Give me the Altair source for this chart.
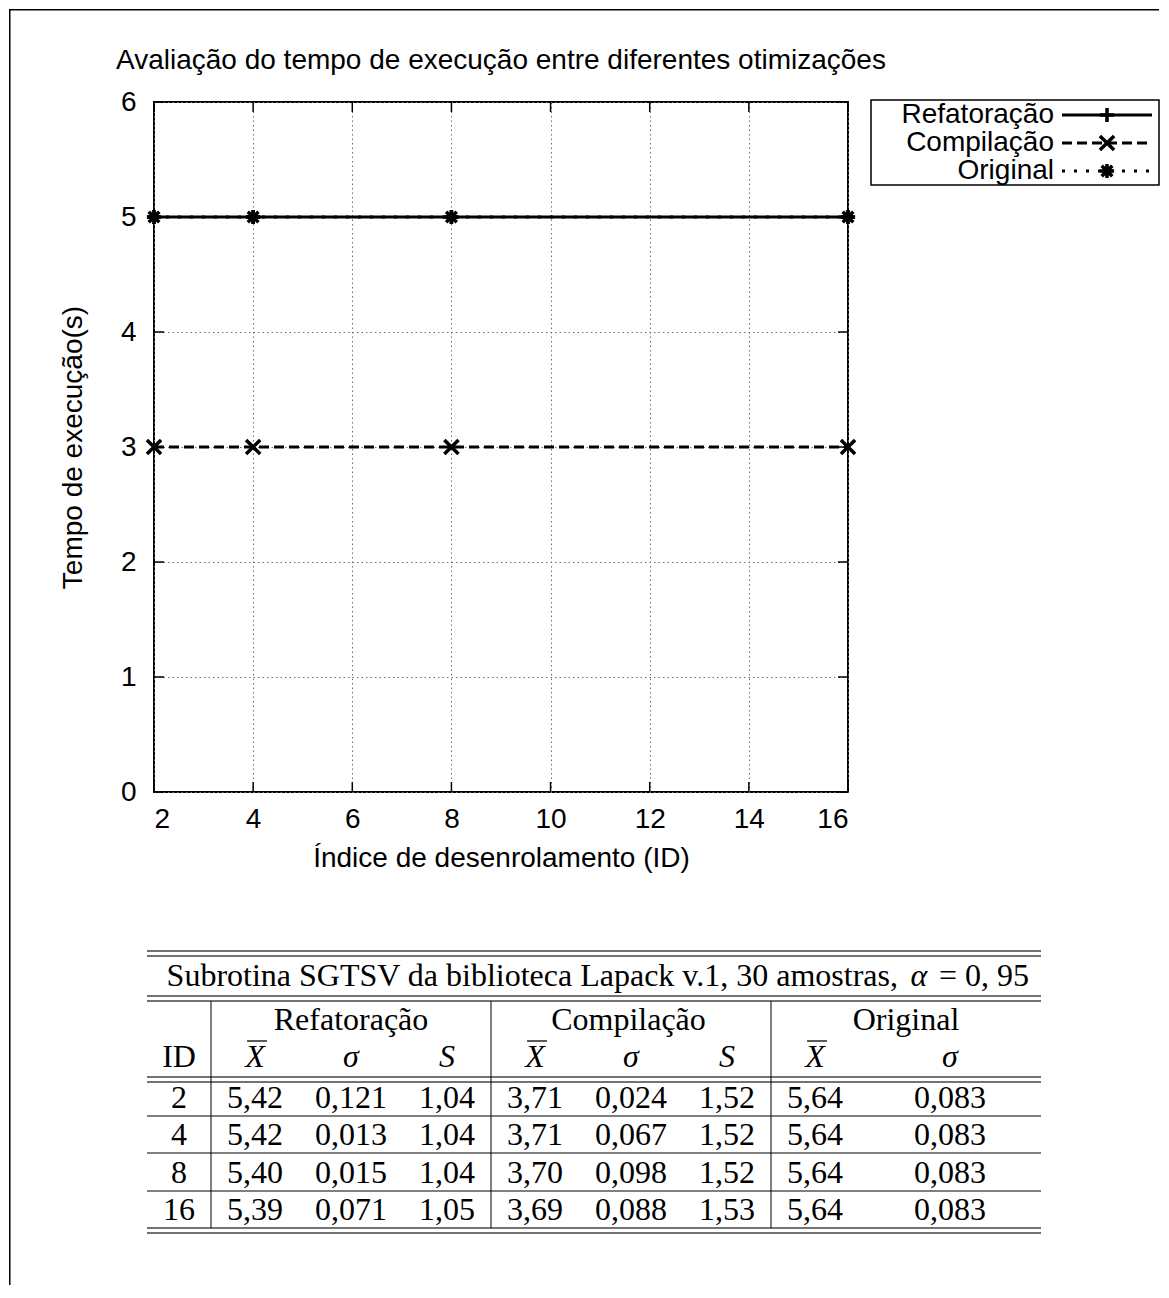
import altair as alt
import pandas as pd

# ---------------- data ----------------
ids = [2, 4, 8, 16]
series = ["Refatoração", "Compilação", "Original"]
plot_refat = [5, 5, 5, 5]
plot_comp = [3, 3, 3, 3]
plot_orig = [5, 5, 5, 5]

ref_mean = [5.42, 5.42, 5.40, 5.39]
ref_sigma = [0.121, 0.013, 0.015, 0.071]
ref_S = [1.04, 1.04, 1.04, 1.05]
comp_mean = [3.71, 3.71, 3.70, 3.69]
comp_sigma = [0.024, 0.067, 0.098, 0.088]
comp_S = [1.52, 1.52, 1.52, 1.53]
orig_mean = [5.64, 5.64, 5.64, 5.64]
orig_sigma = [0.083, 0.083, 0.083, 0.083]

x_ticks = [2, 4, 6, 8, 10, 12, 14, 16]
y_ticks = [0, 1, 2, 3, 4, 5, 6]

title_text = "Avaliação do tempo de execução entre diferentes otimizações"
x_title = "Índice de desenrolamento (ID)"
y_title = "Tempo de execução(s)"
table_title_a = "Subrotina SGTSV da biblioteca Lapack v.1, 30 amostras,"
table_title_alpha = "α"
table_title_b = "= 0, 95"
col_symbols = ["ID", "X", "σ", "S", "X", "σ", "S", "X", "σ"]

# ---------------- layout ----------------
W, H = 694, 690
OX, OY = 153, 101          # page position of the plot area origin


def X(p):
    return p - OX


def Y(p):
    return p - OY


SANS = "Liberation Sans"
SERIF = "Liberation Serif"
FS = 28
TFS = 32

PLUS = "M-1,0L1,0M0,-1L0,1"
CROSS = "M-1,-1L1,1M-1,1L1,-1"
STAR = "M-1,0L1,0M0,-1L0,1M-0.75,-0.75L0.75,0.75M-0.75,0.75L0.75,-0.75"

dash_scale = alt.Scale(domain=series, range=[[1, 0], [10, 5], [3, 9]])
shape_scale = alt.Scale(domain=series, range=[PLUS, CROSS, STAR])
xs = alt.Scale(domain=[2, 16], nice=False, zero=False)
ys = alt.Scale(domain=[0, 6], nice=False, zero=True)

plot_df = pd.DataFrame({
    "ID": ids * 3,
    "tempo": plot_refat + plot_comp + plot_orig,
    "serie": [s for s in series for _ in ids],
})

one = pd.DataFrame({"k": [0]})
layers = []

# main lines (carry the axes and grid)
lines = alt.Chart(plot_df).mark_line(color="black", strokeWidth=3).encode(
    x=alt.X("ID:Q", scale=xs, axis=alt.Axis(
        values=x_ticks, title=x_title, grid=True, labelPadding=13, titlePadding=11,
        format="d")),
    y=alt.Y("tempo:Q", scale=ys, axis=alt.Axis(
        values=y_ticks, title=y_title, grid=True, labelPadding=18, titlePadding=33,
        format="d")),
    strokeDash=alt.StrokeDash("serie:N", scale=dash_scale, legend=None),
    detail="serie:N",
)
layers.append(lines)

points = alt.Chart(plot_df).mark_point(
    filled=False, color="black", strokeWidth=3.5, size=200, opacity=1
).encode(
    x=alt.X("ID:Q", scale=xs, axis=None),
    y=alt.Y("tempo:Q", scale=ys, axis=None),
    shape=alt.Shape("serie:N", scale=shape_scale, legend=None),
)
layers.append(points)

# inward ticks on all four sides
xt = pd.DataFrame({"v": x_ticks})
yt = pd.DataFrame({"v": y_ticks})
TL = 10
layers.append(alt.Chart(xt).mark_rule(color="black", strokeWidth=1.5).encode(
    x=alt.X("v:Q", scale=xs, axis=None), y=alt.value(H), y2=alt.value(H - TL)))
layers.append(alt.Chart(xt).mark_rule(color="black", strokeWidth=1.5).encode(
    x=alt.X("v:Q", scale=xs, axis=None), y=alt.value(0), y2=alt.value(TL)))
layers.append(alt.Chart(yt).mark_rule(color="black", strokeWidth=1.5).encode(
    y=alt.Y("v:Q", scale=ys, axis=None), x=alt.value(0), x2=alt.value(TL)))
layers.append(alt.Chart(yt).mark_rule(color="black", strokeWidth=1.5).encode(
    y=alt.Y("v:Q", scale=ys, axis=None), x=alt.value(W), x2=alt.value(W - TL)))

# title
layers.append(alt.Chart(one).mark_text(
    text=title_text, align="left", baseline="middle", font=SANS, fontSize=FS, color="black"
).encode(x=alt.value(X(115)), y=alt.value(Y(60))))

# legend (gnuplot style)
leg_df = pd.DataFrame({"serie": series})
leg_y = alt.Y("serie:N", scale=alt.Scale(type="point", domain=series,
                                         range=[Y(114), Y(170)], padding=0),
              axis=None)
layers.append(alt.Chart(one).mark_rect(fill="white", stroke="black", strokeWidth=1.5).encode(
    x=alt.value(X(870)), x2=alt.value(X(1158)), y=alt.value(Y(99)), y2=alt.value(Y(184))))
layers.append(alt.Chart(leg_df).mark_text(
    align="right", baseline="middle", font=SANS, fontSize=FS, color="black"
).encode(x=alt.value(X(1053)), y=leg_y, text="serie:N"))
layers.append(alt.Chart(leg_df).mark_rule(color="black", strokeWidth=3).encode(
    x=alt.value(X(1061)), x2=alt.value(X(1151)), y=leg_y,
    strokeDash=alt.StrokeDash("serie:N", scale=dash_scale, legend=None)))
layers.append(alt.Chart(leg_df).mark_point(
    filled=False, color="black", strokeWidth=3.5, size=200, opacity=1
).encode(x=alt.value(X(1106)), y=leg_y,
         shape=alt.Shape("serie:N", scale=shape_scale, legend=None)))

# ---------------- table ----------------
def fmt(v, d):
    return f"{v:.{d}f}".replace(".", ",")


tab_df = pd.DataFrame({
    "ID": [str(i) for i in ids],
    "rm": [fmt(v, 2) for v in ref_mean],
    "rs": [fmt(v, 3) for v in ref_sigma],
    "rS": [fmt(v, 2) for v in ref_S],
    "cm": [fmt(v, 2) for v in comp_mean],
    "cs": [fmt(v, 3) for v in comp_sigma],
    "cS": [fmt(v, 2) for v in comp_S],
    "om": [fmt(v, 2) for v in orig_mean],
    "os": [fmt(v, 3) for v in orig_sigma],
})
col_keys = ["ID", "rm", "rs", "rS", "cm", "cs", "cS", "om", "os"]
col_x = [178, 254, 350, 446, 534, 630, 726, 814, 949]

row_y = alt.Y("ID:N", scale=alt.Scale(type="point", domain=[str(i) for i in ids],
                                      range=[Y(1097), Y(1209)], padding=0), axis=None)
for key, cx in zip(col_keys, col_x):
    layers.append(alt.Chart(tab_df).mark_text(
        align="center", baseline="middle", font=SERIF, fontSize=TFS, color="black"
    ).encode(x=alt.value(X(cx)), y=row_y, text=f"{key}:N"))

# table title (roman text + italic alpha + roman value)
layers.append(alt.Chart(one).mark_text(
    text=table_title_a, align="right", baseline="middle", font=SERIF, fontSize=TFS,
    color="black"
).encode(x=alt.value(X(897)), y=alt.value(Y(975))))
layers.append(alt.Chart(one).mark_text(
    text=table_title_alpha, align="center", baseline="middle", font=SERIF, fontSize=TFS,
    fontStyle="italic", color="black"
).encode(x=alt.value(X(918)), y=alt.value(Y(975))))
layers.append(alt.Chart(one).mark_text(
    text=table_title_b, align="left", baseline="middle", font=SERIF, fontSize=TFS,
    color="black"
).encode(x=alt.value(X(938)), y=alt.value(Y(975))))

# group headers
grp_df = pd.DataFrame({"grupo": series})
layers.append(alt.Chart(grp_df).mark_text(
    align="center", baseline="middle", font=SERIF, fontSize=TFS, color="black"
).encode(
    x=alt.X("grupo:N", scale=alt.Scale(type="point", domain=series,
                                       range=[X(350), X(905)], padding=0),
            axis=None),
    y=alt.value(Y(1019)), text="grupo:N"))

# column symbols
for sym, cx in zip(col_symbols, col_x):
    italic = sym != "ID"
    layers.append(alt.Chart(one).mark_text(
        text=sym, align="center", baseline="middle", font=SERIF, fontSize=TFS,
        fontStyle="italic" if italic else "normal", color="black"
    ).encode(x=alt.value(X(cx)), y=alt.value(Y(1056))))
    if sym == "X":
        layers.append(alt.Chart(one).mark_rule(color="black", strokeWidth=1.3).encode(
            x=alt.value(X(cx - 8)), x2=alt.value(X(cx + 12)),
            y=alt.value(Y(1040)), y2=alt.value(Y(1040))))

# horizontal rules of the table
TL0, TL1 = 146, 1040
double_lines = [950, 955, 995, 1000, 1076, 1081, 1227, 1232]
single_lines = [1115, 1152, 1190]
for yy in double_lines:
    layers.append(alt.Chart(one).mark_rule(color="#444444", strokeWidth=1.5).encode(
        x=alt.value(X(TL0)), x2=alt.value(X(TL1)), y=alt.value(Y(yy)), y2=alt.value(Y(yy))))
for yy in single_lines:
    layers.append(alt.Chart(one).mark_rule(color="black", strokeWidth=1).encode(
        x=alt.value(X(TL0)), x2=alt.value(X(TL1)), y=alt.value(Y(yy)), y2=alt.value(Y(yy))))
for xx in [210, 490, 770]:
    layers.append(alt.Chart(one).mark_rule(color="black", strokeWidth=1).encode(
        x=alt.value(X(xx)), x2=alt.value(X(xx)), y=alt.value(Y(1000)), y2=alt.value(Y(1227))))

# page frame (top and left edges)
layers.append(alt.Chart(one).mark_rule(color="black", strokeWidth=1.5).encode(
    x=alt.value(X(8)), x2=alt.value(X(1158)), y=alt.value(Y(8.75)), y2=alt.value(Y(8.75))))
layers.append(alt.Chart(one).mark_rule(color="black", strokeWidth=1.5).encode(
    x=alt.value(X(8.75)), x2=alt.value(X(8.75)), y=alt.value(Y(8)), y2=alt.value(Y(1284))))

chart = alt.layer(*layers).resolve_scale(
    x="independent", y="independent"
).properties(
    width=W, height=H, padding=0, background="white"
).configure_view(
    stroke="black", strokeWidth=2
).configure_axis(
    ticks=False, domain=False,
    labelFont=SANS, labelFontSize=FS, labelColor="black",
    titleFont=SANS, titleFontSize=FS, titleFontWeight="normal", titleColor="black",
    gridColor="#6f6f6f", gridDash=[1.5, 3], gridWidth=1, gridOpacity=1,
)

chart.save("out.html", embed_options={"renderer": "svg", "actions": False})
